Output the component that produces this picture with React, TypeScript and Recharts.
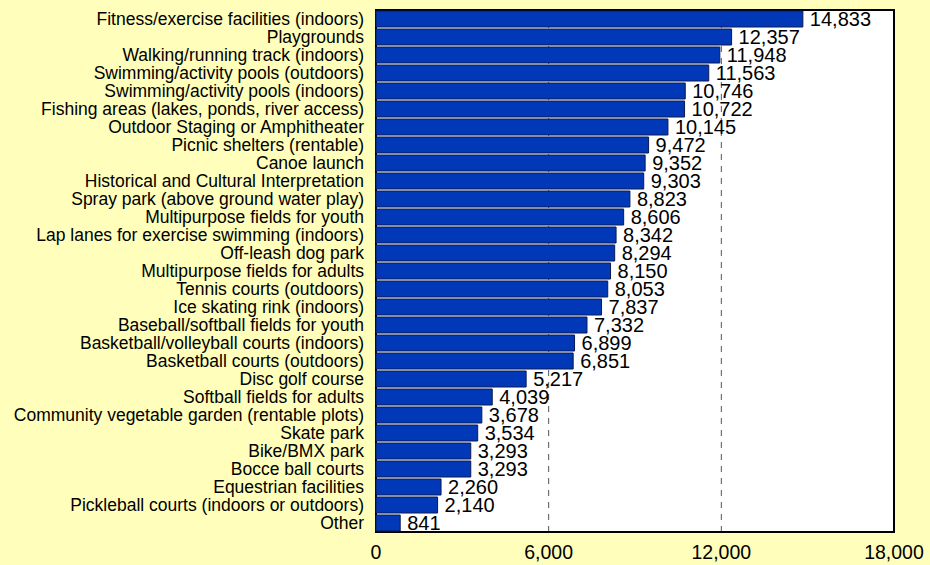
import { BarChart, Bar, XAxis, YAxis, CartesianGrid, LabelList, ReferenceArea } from 'recharts';

const categories = [
  'Fitness/exercise facilities (indoors)',
  'Playgrounds',
  'Walking/running track (indoors)',
  'Swimming/activity pools (outdoors)',
  'Swimming/activity pools (indoors)',
  'Fishing areas (lakes, ponds, river access)',
  'Outdoor Staging or Amphitheater',
  'Picnic shelters (rentable)',
  'Canoe launch',
  'Historical and Cultural Interpretation',
  'Spray park (above ground water play)',
  'Multipurpose fields for youth',
  'Lap lanes for exercise swimming (indoors)',
  'Off-leash dog park',
  'Multipurpose fields for adults',
  'Tennis courts (outdoors)',
  'Ice skating rink (indoors)',
  'Baseball/softball fields for youth',
  'Basketball/volleyball courts (indoors)',
  'Basketball courts (outdoors)',
  'Disc golf course',
  'Softball fields for adults',
  'Community vegetable garden (rentable plots)',
  'Skate park',
  'Bike/BMX park',
  'Bocce ball courts',
  'Equestrian facilities',
  'Pickleball courts (indoors or outdoors)',
  'Other',
];

const counts = [
  14833, 12357, 11948, 11563, 10746, 10722, 10145, 9472, 9352, 9303, 8823, 8606, 8342, 8294,
  8150, 8053, 7837, 7332, 6899, 6851, 5217, 4039, 3678, 3534, 3293, 3293, 2260, 2140, 841,
];

const xTicks = [0, 6000, 12000, 18000];

const data = categories.map((name, i) => ({ name, value: counts[i] }));

const FONT = 'Arial, "Liberation Sans", sans-serif';
const fmt = (v: any) => Number(v).toLocaleString('en-US');

export default function App() {
  return (
    <div style={{ position: 'absolute', left: 0, top: 0, width: 930, height: 565, background: '#FFFFBB' }}>
      <BarChart
        width={930}
        height={565}
        data={data}
        layout="vertical"
        margin={{ top: 10, right: 36, bottom: 0, left: 0 }}
        barCategoryGap={1}
        style={{ fontFamily: FONT }}
      >
        <CartesianGrid
          fill="#ffffff"
          stroke="#555555"
          strokeDasharray="6 6"
          horizontal={false}
          verticalValues={[6000, 12000]}
        />
        <XAxis
          type="number"
          domain={[0, 18000]}
          ticks={xTicks}
          tickFormatter={fmt}
          height={33}
          axisLine={false}
          tickLine={false}
          tickMargin={7}
          tick={{ fill: '#000', fontSize: 19.5 }}
        />
        <YAxis
          type="category"
          dataKey="name"
          width={376}
          interval={0}
          axisLine={false}
          tickLine={false}
          tickMargin={6}
          tick={{ fill: '#000', fontSize: 17.5 }}
        />
        <Bar dataKey="value" fill="#0038B8" stroke="#0a1a50" strokeWidth={1} isAnimationActive={false}>
          <LabelList
            dataKey="value"
            position="right"
            offset={7}
            formatter={fmt}
            style={{ fill: '#000', fontSize: 20 }}
          />
        </Bar>
        <ReferenceArea x1={0} x2={18000} fill="none" stroke="#000" strokeWidth={2} ifOverflow="visible" />
      </BarChart>
    </div>
  );
}
